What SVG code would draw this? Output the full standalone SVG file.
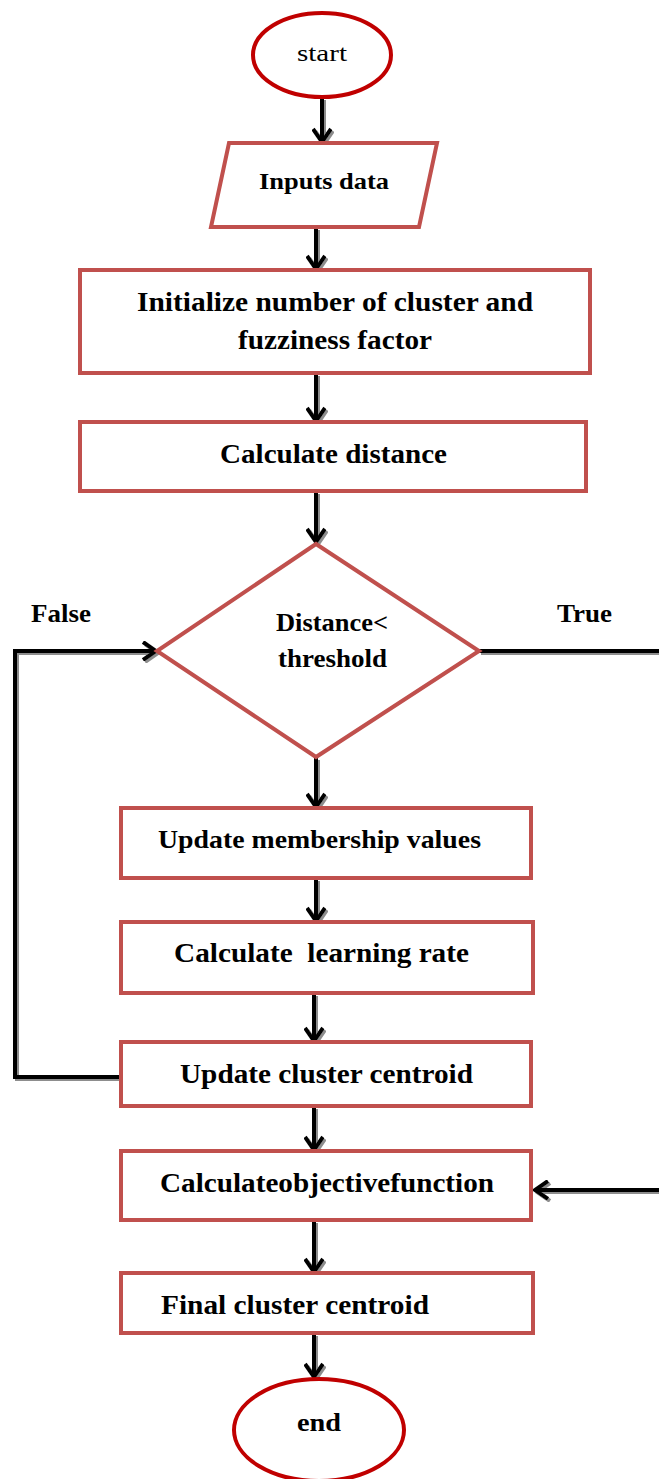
<svg xmlns="http://www.w3.org/2000/svg" width="659" height="1479" viewBox="0 0 659 1479">
<style>
.box{fill:#fff;stroke:#C0504D;stroke-width:4}
.term{fill:#fff;stroke:#C00000;stroke-width:4}
.t{font-family:"Liberation Serif","Times New Roman",serif;font-weight:bold;fill:#000}
.n{font-weight:normal}
.c{fill:none;stroke:#000;stroke-width:4}
</style>
<defs>
<marker id="ah" viewBox="0 0 20 20" refX="18" refY="10" markerWidth="20" markerHeight="20" markerUnits="userSpaceOnUse" orient="auto">
<path d="M5,1 L18,10 L5,19" fill="none" stroke="#000" stroke-width="4"/>
</marker>
<filter id="sh" x="-20%" y="-20%" width="140%" height="140%">
<feDropShadow dx="2" dy="2" stdDeviation="0.6" flood-color="#808080" flood-opacity="0.9"/>
</filter>
</defs>
<g id="connectors" filter="url(#sh)">
<path class="c" d="M322,98 V142" marker-end="url(#ah)"/>
<path class="c" d="M316,228 V269" marker-end="url(#ah)"/>
<path class="c" d="M316,374 V421" marker-end="url(#ah)"/>
<path class="c" d="M316,492 V542" marker-end="url(#ah)"/>
<path class="c" d="M316,758 V807" marker-end="url(#ah)"/>
<path class="c" d="M316,879 V921" marker-end="url(#ah)"/>
<path class="c" d="M314,994 V1041" marker-end="url(#ah)"/>
<path class="c" d="M314,1107 V1150" marker-end="url(#ah)"/>
<path class="c" d="M314,1221 V1272" marker-end="url(#ah)"/>
<path class="c" d="M314,1334 V1377" marker-end="url(#ah)"/>
<path class="c" d="M121,1077 H15 V651 H156" marker-end="url(#ah)"/>
<path class="c" d="M479,651 H661"/>
<path class="c" d="M661,1190 H535" marker-end="url(#ah)"/>
</g>
<g id="start"><ellipse class="term" cx="322" cy="55" rx="69" ry="42"/><text class="t n" x="297" y="61" font-size="24" textLength="50" lengthAdjust="spacingAndGlyphs">start</text></g>
<g id="inputs"><polygon class="box" points="229,143 437,143 419,227 211,227"/><text class="t" x="259" y="189" font-size="24" textLength="130" lengthAdjust="spacingAndGlyphs">Inputs data</text></g>
<g id="init"><rect class="box" x="80" y="270" width="510" height="103"/><text class="t" x="137" y="311" font-size="27" textLength="396" lengthAdjust="spacingAndGlyphs">Initialize number of cluster and</text><text class="t" x="238" y="349" font-size="27" textLength="194" lengthAdjust="spacingAndGlyphs">fuzziness factor</text></g>
<g id="calcdist"><rect class="box" x="80" y="422" width="506" height="69"/><text class="t" x="220" y="463" font-size="27" textLength="227" lengthAdjust="spacingAndGlyphs">Calculate distance</text></g>
<g id="decision"><polygon class="box" points="316,544 479,651 316,757 157,651"/><text class="t" x="276" y="631" font-size="25" textLength="112" lengthAdjust="spacingAndGlyphs">Distance&lt;</text><text class="t" x="278" y="667" font-size="25" textLength="109" lengthAdjust="spacingAndGlyphs">threshold</text></g>
<text class="t" x="31" y="622" font-size="25" textLength="60" lengthAdjust="spacingAndGlyphs">False</text>
<text class="t" x="557" y="622" font-size="25" textLength="55" lengthAdjust="spacingAndGlyphs">True</text>
<g id="updmem"><rect class="box" x="121" y="808" width="410" height="70"/><text class="t" x="158" y="848" font-size="25" textLength="323" lengthAdjust="spacingAndGlyphs">Update membership values</text></g>
<g id="calclr"><rect class="box" x="121" y="922" width="412" height="71"/><text class="t" x="174" y="962" font-size="27" textLength="295" lengthAdjust="spacingAndGlyphs" xml:space="preserve">Calculate  learning rate</text></g>
<g id="updcent"><rect class="box" x="121" y="1042" width="410" height="64"/><text class="t" x="180" y="1083" font-size="27" textLength="293" lengthAdjust="spacingAndGlyphs">Update cluster centroid</text></g>
<g id="objfn"><rect class="box" x="121" y="1151" width="410" height="69"/><text class="t" x="160" y="1192" font-size="27" textLength="334" lengthAdjust="spacingAndGlyphs">Calculateobjectivefunction</text></g>
<g id="final"><rect class="box" x="121" y="1273" width="412" height="60"/><text class="t" x="161" y="1314" font-size="27" textLength="268" lengthAdjust="spacingAndGlyphs">Final cluster centroid</text></g>
<g id="end"><ellipse class="term" cx="319" cy="1430" rx="85" ry="51"/><text class="t" x="297" y="1431" font-size="26" textLength="44" lengthAdjust="spacingAndGlyphs">end</text></g>
</svg>
